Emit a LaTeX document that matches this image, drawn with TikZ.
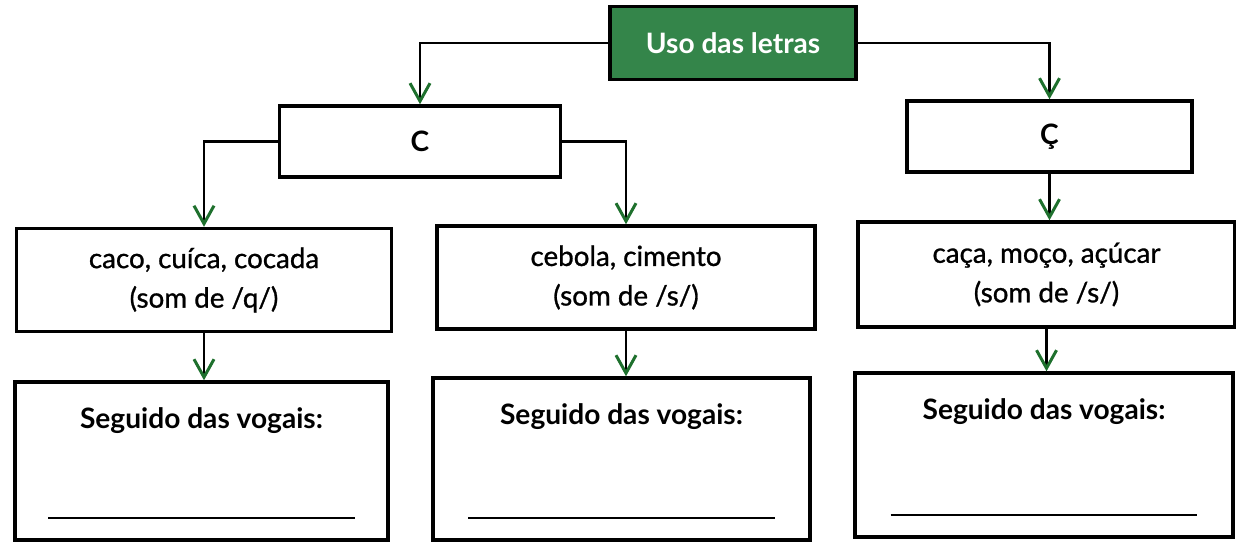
\documentclass[tikz,border=0pt]{standalone}
\usepackage{fontspec}
\setmainfont{Lato}
\newfontfamily\medfont{Lato}[FakeBold=1.0]
\usetikzlibrary{arrows.meta}

\definecolor{usogreen}{RGB}{52,133,74}
\definecolor{tipgreen}{RGB}{30,112,45}

\begin{document}
\begin{tikzpicture}[x=0.02cm, y=-0.02cm,
        box/.style = {draw=black, line width=2pt, fill=white, inner sep=0pt},
        title/.style = {box, fill=usogreen, text=white, font=\fontsize{16}{19}\selectfont\bfseries,
                        minimum width=4.92cm, minimum height=1.46cm},
        letter/.style = {box, font=\fontsize{16}{19}\selectfont\bfseries, minimum height=1.42cm},
        wordbox/.style = {box, align=center, font=\fontsize{15.8}{22.5}\selectfont\medfont,
                          minimum width=7.52cm, minimum height=2.06cm},
        vowelbox/.style = {box, minimum width=7.52cm},
        vowels/.style = {font=\fontsize{16}{19}\selectfont\bfseries},
        blank/.style = {line width=0.9pt},
        link/.style = {line width=1.5pt, -{Straight Barb[tipgreen, length=0.36cm, width=0.4cm, line width=1.7pt]}}
    ]
    \useasboundingbox (0,0) rectangle (1236,542);

    \node[title] (uso) at (733,43) {Uso das letras};

    \node[letter, minimum width=5.62cm] (c) at (420,141.5) {C};
    \node[letter, minimum width=5.7cm] (cc) at (1049.5,136.5) {Ç};

    \node[wordbox, minimum width=7.5cm] (q) at (204,280) {caco, cuíca, cocada\\(som de /q/)};
    \node[wordbox, minimum width=7.56cm] (s1) at (626,277.5) {cebola, cimento\\(som de /s/)};
    \node[wordbox, minimum width=7.54cm, minimum height=2.1cm] (s2) at (1046.5,274.5) {caça, moço, açúcar\\(som de /s/)};

    \node[vowelbox, minimum width=7.46cm, minimum height=3.16cm] (v1) at (201.5,461) {};
    \node[vowelbox, minimum width=7.54cm, minimum height=3.24cm] (v2) at (621.5,459) {};
    \node[vowelbox, minimum width=7.56cm, minimum height=3.28cm] (v3) at (1044,455) {};

    \foreach \v in {v1,v2,v3}{
        \node[vowels] (\v t) at ([yshift=-0.8cm]\v.north) {Seguido das vogais:};
        \draw[blank] ([xshift=-3.07cm, yshift=0.47cm]\v.south) -- ++(6.14cm,0);
    }

    \draw[link] (uso.west) -| (c.north);
    \draw[link] (uso.east) -| (cc.north);
    \draw[link] (c.west) -| (q.north);
    \draw[link] (c.east) -| (s1.north);
    \draw[link] (cc.south) -- (cc.south |- s2.north);
    \draw[link] (q.south) -- (q.south |- v1.north);
    \draw[link] (s1.south) -- (s1.south |- v2.north);
    \draw[link] (s2.south) -- (s2.south |- v3.north);
\end{tikzpicture}
\end{document}
